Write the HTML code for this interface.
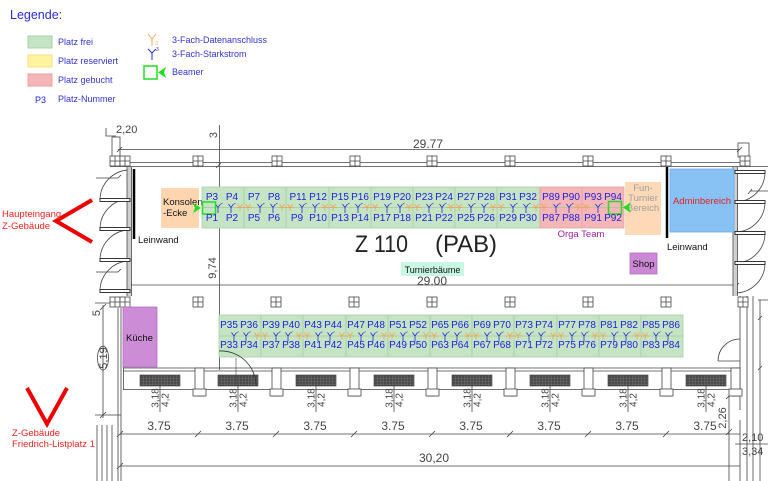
<!DOCTYPE html>
<html><head><meta charset="utf-8"><style>
html,body{margin:0;padding:0;background:#fff;}
svg{display:block;}
text{font-family:"Liberation Sans",Arial,sans-serif;}
</style></head><body>
<svg width="768" height="481" viewBox="0 0 768 481" xmlns="http://www.w3.org/2000/svg">
<defs>
<pattern id="hatch" width="3" height="3" patternUnits="userSpaceOnUse"><rect width="3" height="3" fill="#4a4a4a"/><path d="M0,0V3M0,0H3" stroke="#8a8a8a" stroke-width="0.6"/></pattern>
<g id="win"><rect x="0" y="0" width="10" height="10" fill="#fff" stroke="#444" stroke-width="0.8"/><path d="M5,0V10M0,5H10" stroke="#444" stroke-width="0.8"/></g>
<g id="yb"><path d="M-2.5,-3.5 L0,0 L2.5,-3.5 M0,0 V5.5" fill="none" stroke="#2b2bd0" stroke-width="0.8"/><path d="M3,-3.5 l1.5,-0.8" stroke="#2b2bd0" stroke-width="0.6"/></g>
<g id="yo"><path d="M-2.5,-3.5 L0,0 L2.5,-3.5 M0,0 V3.5" fill="none" stroke="#e8a860" stroke-width="0.9"/></g>
<g id="rad"><rect x="0" y="0" width="40" height="11" fill="url(#hatch)" stroke="#333" stroke-width="0.6"/></g>
<g id="pil"><rect x="0" y="0" width="9" height="28" fill="#fff" stroke="#444" stroke-width="0.8"/><rect x="-2" y="21" width="13" height="7" fill="#fff" stroke="#444" stroke-width="0.8"/></g>
</defs>

<!-- ============ LEGEND ============ -->
<text x="10" y="19" font-size="12.5" fill="#2a2ad8">Legende:</text>
<rect x="28" y="36" width="24" height="12" fill="#c4e4c4" stroke="#a8d2a8"/>
<rect x="28" y="55" width="24" height="12" fill="#fff3a0" stroke="#f0e080"/>
<rect x="28" y="74" width="24" height="12" fill="#f4b6b6" stroke="#e8a0a0"/>
<text x="58" y="45" font-size="9" fill="#3333cc">Platz frei</text>
<text x="58" y="64" font-size="9" fill="#3333cc">Platz reserviert</text>
<text x="58" y="83" font-size="9" fill="#3333cc">Platz gebucht</text>
<text x="35" y="103" font-size="9" fill="#2020e0">P3</text>
<text x="58" y="102" font-size="9" fill="#3333cc">Platz-Nummer</text>
<path d="M148,34 L152,39 L156,34 M152,39 V46" fill="none" stroke="#e8a860" stroke-width="1"/>
<text x="155" y="45" font-size="5" fill="#e8a860">3</text>
<path d="M148,49 L152,53 L156,49 M152,53 V60" fill="none" stroke="#2b2bd0" stroke-width="1"/>
<text x="156" y="51" font-size="5" fill="#2b2bd0">3</text>
<rect x="144" y="66" width="13" height="13" fill="none" stroke="#22dd22" stroke-width="1.5"/>
<polygon points="158,72.5 166,67 164,72.5 166,78" fill="#22dd22"/>
<text x="172" y="43" font-size="9" fill="#3333cc">3-Fach-Datenanschluss</text>
<text x="172" y="57" font-size="9" fill="#3333cc">3-Fach-Starkstrom</text>
<text x="172" y="75" font-size="9" fill="#3333cc">Beamer</text>

<!-- ============ STRUCTURE ============ -->
<g stroke="#444" stroke-width="0.8" fill="none">
 <line x1="118" y1="149.5" x2="740" y2="149.5"/>
 <line x1="110" y1="162.5" x2="745" y2="162.5"/>
 <line x1="110" y1="166.5" x2="768" y2="166.5"/>
 <path d="M117,152 l5,-5 M737,152 l5,-5 M216,168 l5,-5"/>
 <rect x="112" y="137" width="8" height="20"/>
 <path d="M106,128 v8 h10"/>
 <rect x="738" y="143" width="11" height="14"/>
 <line x1="219.5" y1="125" x2="219.5" y2="370"/>
 <line x1="127" y1="167" x2="127" y2="296"/>
 <line x1="131.5" y1="167" x2="131.5" y2="296"/>
 <path d="M96,178 H118 l3,-3 M96,272 H118 l3,-3"/>
 <path d="M100,200 A30,30 0 0 1 130,170 M100,229 A30,30 0 0 1 130,199 M100,260 A30,30 0 0 1 130,230 M100,291 A30,30 0 0 1 130,261"/>
 <line x1="118" y1="308" x2="118" y2="481"/>
 <line x1="121" y1="308" x2="121" y2="481"/>
 <line x1="123.5" y1="300" x2="123.5" y2="390"/>
 <line x1="103" y1="305" x2="103" y2="418"/>
 <path d="M95,303 H110 M95,415 H121 M100,310 l6,-6 M100,418 l6,-6"/>
 <ellipse cx="103" cy="358" rx="5.5" ry="12"/>
 <path d="M97,425 V481 M102,425 V481 M107,425 V481 M112,425 V481"/>
 <line x1="127" y1="285" x2="737" y2="285"/>
 <path d="M734,288 l5,-5"/>
 <line x1="123" y1="368" x2="740" y2="368"/>
 <line x1="123" y1="371" x2="740" y2="371"/>
 <line x1="123" y1="389.5" x2="740" y2="389.5"/>
 <line x1="737.5" y1="167" x2="737.5" y2="296"/>
 <line x1="733" y1="167" x2="733" y2="296"/>
 <path d="M765,172 A30,30 0 0 1 735,202 M765,202 A30,30 0 0 1 735,232 M765,233 A30,30 0 0 1 735,263 M765,263 A30,30 0 0 1 735,293"/>
 <path d="M750,191 H768 M748,194 l4,-5"/>
 <line x1="740" y1="296" x2="740" y2="410"/>
 <line x1="747" y1="296" x2="747" y2="481"/>
 <line x1="753" y1="296" x2="753" y2="481"/>
 <line x1="760" y1="300" x2="760" y2="481"/>
 <path d="M758,320 l4,-4 M758,370 l4,-4 M758,300 H768"/>
 <path d="M718,361 A22,22 0 0 1 740,339 M718,361 H740"/>
 <line x1="729" y1="396" x2="729" y2="481"/>
 <path d="M726,399 l6,-6 M726,435 l6,-6"/>
 <line x1="735" y1="444" x2="768" y2="444"/>
 <line x1="740" y1="420" x2="740" y2="481"/>
 <line x1="120" y1="434" x2="740" y2="434"/>
 <line x1="120" y1="466" x2="740" y2="466"/>
 <path d="M117,437 l6,-6 M195,437 l6,-6 M273,437 l6,-6 M351,437 l6,-6 M429,437 l6,-6 M507,437 l6,-6 M585,437 l6,-6 M663,437 l6,-6 M117,469 l6,-6"/>
 <path d="M160,386V412 M238,386V412 M316,386V412 M394,386V412 M472,386V412 M550,386V412 M628,386V412 M706,386V412"/>
</g>
<rect x="127.5" y="167" width="3.5" height="129" fill="#cfcfcf"/>
<rect x="733.5" y="167" width="3.5" height="129" fill="#cfcfcf"/>
<g fill="#fff" stroke="#222" stroke-width="0.9">
 <rect x="100" y="198.5" width="30" height="3"/>
 <rect x="100" y="227.5" width="30" height="3"/>
 <rect x="100" y="258.5" width="30" height="3"/>
 <rect x="100" y="289.5" width="30" height="3"/>
 <rect x="735" y="170.5" width="30" height="3"/>
 <rect x="735" y="200.5" width="30" height="3"/>
 <rect x="735" y="231.5" width="30" height="3"/>
 <rect x="735" y="261.5" width="30" height="3"/>
</g>
<use href="#win" x="110" y="156"/><use href="#win" x="120" y="156"/>
<use href="#win" x="193" y="156"/><use href="#win" x="272" y="156"/><use href="#win" x="350" y="156"/>
<use href="#win" x="427" y="156"/><use href="#win" x="505" y="156"/><use href="#win" x="583" y="156"/>
<use href="#win" x="661" y="156"/><use href="#win" x="740" y="156"/>
<use href="#win" x="110" y="297"/><use href="#win" x="120" y="297"/>
<use href="#win" x="193" y="297"/><use href="#win" x="271" y="297"/><use href="#win" x="349" y="297"/>
<use href="#win" x="427" y="297"/><use href="#win" x="505" y="297"/><use href="#win" x="583" y="297"/>
<use href="#win" x="661" y="297"/><use href="#win" x="738" y="297"/>
<use href="#rad" x="140" y="375"/><use href="#rad" x="218" y="375"/><use href="#rad" x="296" y="375"/>
<use href="#rad" x="374" y="375"/><use href="#rad" x="452" y="375"/><use href="#rad" x="530" y="375"/>
<use href="#rad" x="608" y="375"/><use href="#rad" x="686" y="375"/>
<use href="#pil" x="195" y="368"/><use href="#pil" x="272" y="368"/><use href="#pil" x="350" y="368"/>
<use href="#pil" x="428" y="368"/><use href="#pil" x="506" y="368"/><use href="#pil" x="584" y="368"/>
<use href="#pil" x="662" y="368"/><use href="#pil" x="731" y="368"/>

<g fill="#444" font-size="12">
 <text x="428" y="148" text-anchor="middle">29.77</text>
 <text x="432" y="285" text-anchor="middle">29.00</text>
 <text x="434" y="462" text-anchor="middle">30,20</text>
 <text x="159" y="430" text-anchor="middle">3.75</text>
 <text x="237" y="430" text-anchor="middle">3.75</text>
 <text x="315" y="430" text-anchor="middle">3.75</text>
 <text x="393" y="430" text-anchor="middle">3.75</text>
 <text x="471" y="430" text-anchor="middle">3.75</text>
 <text x="549" y="430" text-anchor="middle">3.75</text>
 <text x="627" y="430" text-anchor="middle">3.75</text>
 <text x="705" y="430" text-anchor="middle">3.75</text>
</g>
<g fill="#444" font-size="11">
 <text x="116" y="133">2,20</text>
 <text transform="translate(212,268) rotate(-90)" text-anchor="middle" y="4">9,74</text>
 <text transform="translate(213,135) rotate(-90)" text-anchor="middle" y="4">3</text>
 <text transform="translate(103,358) rotate(-90)" text-anchor="middle" y="4">5,19</text>
 <text transform="translate(96,313) rotate(-90)" text-anchor="middle" y="4">5</text>
 <text transform="translate(722,418) rotate(-90)" text-anchor="middle" y="4">2,26</text>
 <text x="742" y="441">2,10</text>
 <text x="742" y="455">3,34</text>
</g>
<g fill="#444" font-size="10">
 <text transform="translate(155,398) rotate(-90)" text-anchor="middle" y="3.5">3,18</text>
 <text transform="translate(165,400) rotate(-90)" text-anchor="middle" y="3.5">4,2</text>
 <text transform="translate(233,398) rotate(-90)" text-anchor="middle" y="3.5">3,18</text>
 <text transform="translate(243,400) rotate(-90)" text-anchor="middle" y="3.5">4,2</text>
 <text transform="translate(311,398) rotate(-90)" text-anchor="middle" y="3.5">3,18</text>
 <text transform="translate(321,400) rotate(-90)" text-anchor="middle" y="3.5">4,2</text>
 <text transform="translate(389,398) rotate(-90)" text-anchor="middle" y="3.5">3,18</text>
 <text transform="translate(399,400) rotate(-90)" text-anchor="middle" y="3.5">4,2</text>
 <text transform="translate(467,398) rotate(-90)" text-anchor="middle" y="3.5">3,18</text>
 <text transform="translate(477,400) rotate(-90)" text-anchor="middle" y="3.5">4,2</text>
 <text transform="translate(545,398) rotate(-90)" text-anchor="middle" y="3.5">3,18</text>
 <text transform="translate(555,400) rotate(-90)" text-anchor="middle" y="3.5">4,2</text>
 <text transform="translate(623,398) rotate(-90)" text-anchor="middle" y="3.5">3,18</text>
 <text transform="translate(633,400) rotate(-90)" text-anchor="middle" y="3.5">4,2</text>
 <text transform="translate(701,398) rotate(-90)" text-anchor="middle" y="3.5">3,18</text>
 <text transform="translate(711,400) rotate(-90)" text-anchor="middle" y="3.5">4,2</text>
</g>

<!-- ============ AREAS ============ -->
<rect x="161" y="188" width="38" height="40" fill="#fdd6b0"/>
<text x="163" y="205" font-size="9.5" fill="#111">Konsolen</text>
<text x="163" y="216" font-size="9.5" fill="#111">-Ecke</text>
<line x1="134" y1="169" x2="134" y2="239" stroke="#000" stroke-width="2.5"/>
<text x="138" y="243" font-size="9.5" fill="#111">Leinwand</text>
<rect x="625" y="182" width="36" height="53" fill="#fdd9b8"/>
<text x="643" y="191" font-size="9.5" fill="#a0a0a0" text-anchor="middle">Fun-</text>
<text x="643" y="201" font-size="9.5" fill="#a0a0a0" text-anchor="middle">Turnier</text>
<text x="643" y="211" font-size="9.5" fill="#a0a0a0" text-anchor="middle">Bereich</text>
<rect x="670" y="169" width="64" height="63" fill="#88c2f4" stroke="#6aaae8" stroke-width="0.8"/>
<text x="702" y="204" font-size="9.5" fill="#e02020" text-anchor="middle">Adminbereich</text>
<line x1="667" y1="167" x2="667" y2="238" stroke="#000" stroke-width="2.5"/>
<text x="667" y="250" font-size="9.5" fill="#111">Leinwand</text>
<rect x="630" y="253" width="27" height="21" fill="#cc88d4" stroke="#b070c0" stroke-width="0.8"/>
<text x="643.5" y="267" font-size="9.5" fill="#111" text-anchor="middle">Shop</text>
<rect x="401" y="262" width="63" height="14" fill="#c8f7e6"/>
<text x="432.5" y="273" font-size="9" fill="#111" text-anchor="middle">Turnierbäume</text>
<rect x="123" y="307" width="34" height="60" fill="#cc8cd6" stroke="#b070c0" stroke-width="0.8"/>
<text x="126" y="341" font-size="9.5" fill="#111">Küche</text>
<text x="355" y="252" font-size="24" fill="#222" textLength="53" lengthAdjust="spacingAndGlyphs">Z 110</text>
<text x="435" y="252" font-size="24" fill="#222" textLength="62" lengthAdjust="spacingAndGlyphs">(PAB)</text>
<text x="581" y="237" font-size="9.5" fill="#a020a0" text-anchor="middle">Orga Team</text>

<!-- ============ SEATS TOP ROW ============ -->
<g stroke="#a8d0a8" stroke-width="0.8">
 <rect x="202" y="187" width="42" height="41" fill="#c4e4c4"/>
 <rect x="244" y="187" width="42" height="41" fill="#c4e4c4"/>
 <rect x="286" y="187" width="43" height="41" fill="#c4e4c4"/>
 <rect x="329" y="187" width="42" height="41" fill="#c4e4c4"/>
 <rect x="371" y="187" width="42" height="41" fill="#c4e4c4"/>
 <rect x="413" y="187" width="42" height="41" fill="#c4e4c4"/>
 <rect x="455" y="187" width="42" height="41" fill="#c4e4c4"/>
 <rect x="497" y="187" width="43" height="41" fill="#c4e4c4"/>
 <rect x="540" y="187" width="42" height="41" fill="#f4b6b6" stroke="#e8a4a4"/>
 <rect x="582" y="187" width="42" height="41" fill="#f4b6b6" stroke="#e8a4a4"/>
 <line x1="202" y1="207.5" x2="624" y2="207.5" stroke="#a5c8a0"/>
</g>
<g stroke="#e8a860" stroke-width="0.9">
 <line x1="236" y1="207.5" x2="252" y2="207.5"/><line x1="278" y1="207.5" x2="294" y2="207.5"/>
 <line x1="321" y1="207.5" x2="337" y2="207.5"/><line x1="363" y1="207.5" x2="379" y2="207.5"/>
 <line x1="405" y1="207.5" x2="421" y2="207.5"/><line x1="447" y1="207.5" x2="463" y2="207.5"/>
 <line x1="489" y1="207.5" x2="505" y2="207.5"/><line x1="532" y1="207.5" x2="548" y2="207.5"/>
 <line x1="574" y1="207.5" x2="590" y2="207.5"/>
</g>
<g>
 <use href="#yo" x="240" y="207.5"/><use href="#yo" x="248" y="207.5"/>
 <use href="#yo" x="282" y="207.5"/><use href="#yo" x="290" y="207.5"/>
 <use href="#yo" x="325" y="207.5"/><use href="#yo" x="333" y="207.5"/>
 <use href="#yo" x="367" y="207.5"/><use href="#yo" x="375" y="207.5"/>
 <use href="#yo" x="409" y="207.5"/><use href="#yo" x="417" y="207.5"/>
 <use href="#yo" x="451" y="207.5"/><use href="#yo" x="459" y="207.5"/>
 <use href="#yo" x="493" y="207.5"/><use href="#yo" x="501" y="207.5"/>
 <use href="#yo" x="536" y="207.5"/><use href="#yo" x="544" y="207.5"/>
 <use href="#yo" x="578" y="207.5"/><use href="#yo" x="586" y="207.5"/>
</g>
<g>
 <use href="#yb" x="218" y="207.5"/><use href="#yb" x="231" y="207.5"/>
 <use href="#yb" x="260" y="207.5"/><use href="#yb" x="273" y="207.5"/>
 <use href="#yb" x="302" y="207.5"/><use href="#yb" x="315" y="207.5"/>
 <use href="#yb" x="345" y="207.5"/><use href="#yb" x="358" y="207.5"/>
 <use href="#yb" x="387" y="207.5"/><use href="#yb" x="400" y="207.5"/>
 <use href="#yb" x="429" y="207.5"/><use href="#yb" x="442" y="207.5"/>
 <use href="#yb" x="471" y="207.5"/><use href="#yb" x="484" y="207.5"/>
 <use href="#yb" x="513" y="207.5"/><use href="#yb" x="526" y="207.5"/>
 <use href="#yb" x="556" y="207.5"/><use href="#yb" x="569" y="207.5"/>
 <use href="#yb" x="598" y="207.5"/>
</g>
<rect x="202.5" y="202" width="13" height="12" fill="none" stroke="#22dd22" stroke-width="1.5"/>
<polygon points="201,208 193,203 195,208 193,213" fill="#22dd22"/>
<rect x="608.5" y="201.5" width="13" height="12.5" fill="none" stroke="#22dd22" stroke-width="1.5"/>
<polygon points="623,207.5 631,202 629,207.5 631,213" fill="#22dd22"/>

<g font-size="10" fill="#2020e0" text-anchor="middle">
 <text x="212" y="200">P3</text><text x="232" y="200">P4</text><text x="212" y="221">P1</text><text x="232" y="221">P2</text>
 <text x="254" y="200">P7</text><text x="274" y="200">P8</text><text x="254" y="221">P5</text><text x="274" y="221">P6</text>
 <text x="298" y="200">P11</text><text x="318" y="200">P12</text><text x="297" y="221">P9</text><text x="318" y="221">P10</text>
 <text x="340" y="200">P15</text><text x="360" y="200">P16</text><text x="340" y="221">P13</text><text x="360" y="221">P14</text>
 <text x="382" y="200">P19</text><text x="402" y="200">P20</text><text x="382" y="221">P17</text><text x="402" y="221">P18</text>
 <text x="424" y="200">P23</text><text x="444" y="200">P24</text><text x="424" y="221">P21</text><text x="444" y="221">P22</text>
 <text x="466" y="200">P27</text><text x="486" y="200">P28</text><text x="466" y="221">P25</text><text x="486" y="221">P26</text>
 <text x="508" y="200">P31</text><text x="528" y="200">P32</text><text x="508" y="221">P29</text><text x="528" y="221">P30</text>
 <text x="551" y="200">P89</text><text x="571" y="200">P90</text><text x="551" y="221">P87</text><text x="571" y="221">P88</text>
 <text x="593" y="200">P93</text><text x="613" y="200">P94</text><text x="593" y="221">P91</text><text x="613" y="221">P92</text>
</g>

<!-- ============ SEATS BOTTOM ROW ============ -->
<g stroke="#a8d0a8" stroke-width="0.8" fill="#c4e4c4">
 <rect x="219" y="315" width="42" height="42"/>
 <rect x="261" y="315" width="42" height="42"/>
 <rect x="303" y="315" width="43" height="42"/>
 <rect x="346" y="315" width="42" height="42"/>
 <rect x="388" y="315" width="42" height="42"/>
 <rect x="430" y="315" width="42" height="42"/>
 <rect x="472" y="315" width="42" height="42"/>
 <rect x="514" y="315" width="43" height="42"/>
 <rect x="557" y="315" width="42" height="42"/>
 <rect x="599" y="315" width="42" height="42"/>
 <rect x="641" y="315" width="42" height="42"/>
 <line x1="219" y1="336" x2="683" y2="336" stroke="#a5c8a0"/>
</g>
<g stroke="#e8a860" stroke-width="0.9">
 <line x1="253" y1="336" x2="269" y2="336"/><line x1="295" y1="336" x2="311" y2="336"/>
 <line x1="338" y1="336" x2="354" y2="336"/><line x1="380" y1="336" x2="396" y2="336"/>
 <line x1="422" y1="336" x2="438" y2="336"/><line x1="464" y1="336" x2="480" y2="336"/>
 <line x1="506" y1="336" x2="522" y2="336"/><line x1="549" y1="336" x2="565" y2="336"/>
 <line x1="591" y1="336" x2="607" y2="336"/><line x1="633" y1="336" x2="649" y2="336"/>
</g>
<g>
 <use href="#yo" x="257" y="336"/><use href="#yo" x="265" y="336"/>
 <use href="#yo" x="299" y="336"/><use href="#yo" x="307" y="336"/>
 <use href="#yo" x="342" y="336"/><use href="#yo" x="350" y="336"/>
 <use href="#yo" x="384" y="336"/><use href="#yo" x="392" y="336"/>
 <use href="#yo" x="426" y="336"/><use href="#yo" x="434" y="336"/>
 <use href="#yo" x="468" y="336"/><use href="#yo" x="476" y="336"/>
 <use href="#yo" x="510" y="336"/><use href="#yo" x="518" y="336"/>
 <use href="#yo" x="553" y="336"/><use href="#yo" x="561" y="336"/>
 <use href="#yo" x="595" y="336"/><use href="#yo" x="603" y="336"/>
 <use href="#yo" x="637" y="336"/><use href="#yo" x="645" y="336"/>
</g>
<g>
 <use href="#yb" x="234" y="336"/><use href="#yb" x="246" y="336"/>
 <use href="#yb" x="276" y="336"/><use href="#yb" x="288" y="336"/>
 <use href="#yb" x="318" y="336"/><use href="#yb" x="330" y="336"/>
 <use href="#yb" x="361" y="336"/><use href="#yb" x="373" y="336"/>
 <use href="#yb" x="403" y="336"/><use href="#yb" x="415" y="336"/>
 <use href="#yb" x="445" y="336"/><use href="#yb" x="457" y="336"/>
 <use href="#yb" x="487" y="336"/><use href="#yb" x="499" y="336"/>
 <use href="#yb" x="529" y="336"/><use href="#yb" x="541" y="336"/>
 <use href="#yb" x="572" y="336"/><use href="#yb" x="584" y="336"/>
 <use href="#yb" x="614" y="336"/><use href="#yb" x="626" y="336"/>
 <use href="#yb" x="656" y="336"/><use href="#yb" x="668" y="336"/>
</g>
<g font-size="10" fill="#2020e0" text-anchor="middle">
 <text x="229" y="328">P35</text><text x="249" y="328">P36</text><text x="229" y="348">P33</text><text x="249" y="348">P34</text>
 <text x="271" y="328">P39</text><text x="291" y="328">P40</text><text x="271" y="348">P37</text><text x="291" y="348">P38</text>
 <text x="313" y="328">P43</text><text x="333" y="328">P44</text><text x="313" y="348">P41</text><text x="333" y="348">P42</text>
 <text x="356" y="328">P47</text><text x="376" y="328">P48</text><text x="356" y="348">P45</text><text x="376" y="348">P46</text>
 <text x="398" y="328">P51</text><text x="418" y="328">P52</text><text x="398" y="348">P49</text><text x="418" y="348">P50</text>
 <text x="440" y="328">P65</text><text x="460" y="328">P66</text><text x="440" y="348">P63</text><text x="460" y="348">P64</text>
 <text x="482" y="328">P69</text><text x="502" y="328">P70</text><text x="482" y="348">P67</text><text x="502" y="348">P68</text>
 <text x="524" y="328">P73</text><text x="544" y="328">P74</text><text x="524" y="348">P71</text><text x="544" y="348">P72</text>
 <text x="567" y="328">P77</text><text x="587" y="328">P78</text><text x="567" y="348">P75</text><text x="587" y="348">P76</text>
 <text x="609" y="328">P81</text><text x="629" y="328">P82</text><text x="609" y="348">P79</text><text x="629" y="348">P80</text>
 <text x="651" y="328">P85</text><text x="671" y="328">P86</text><text x="651" y="348">P83</text><text x="671" y="348">P84</text>
</g>

<path d="M219,351 A35,35 0 0 1 256,386" fill="none" stroke="#333" stroke-width="0.8"/>
<line x1="236" y1="358" x2="236" y2="386" stroke="#444" stroke-width="0.6"/>

<!-- ============ RED MARKERS ============ -->
<polyline points="92,200 56,221 92,242" fill="none" stroke="#ee0000" stroke-width="4"/>
<text x="2" y="217" font-size="9.5" fill="#ee2020">Haupteingang</text>
<text x="2" y="229" font-size="9.5" fill="#ee2020">Z-Gebäude</text>
<polyline points="27,388 47,424 67,388" fill="none" stroke="#ee0000" stroke-width="4"/>
<text x="12" y="436" font-size="9.5" fill="#ee2020">Z-Gebäude</text>
<text x="12" y="447" font-size="9.5" fill="#ee2020">Friedrich-Listplatz 1</text>
</svg>
</body></html>
